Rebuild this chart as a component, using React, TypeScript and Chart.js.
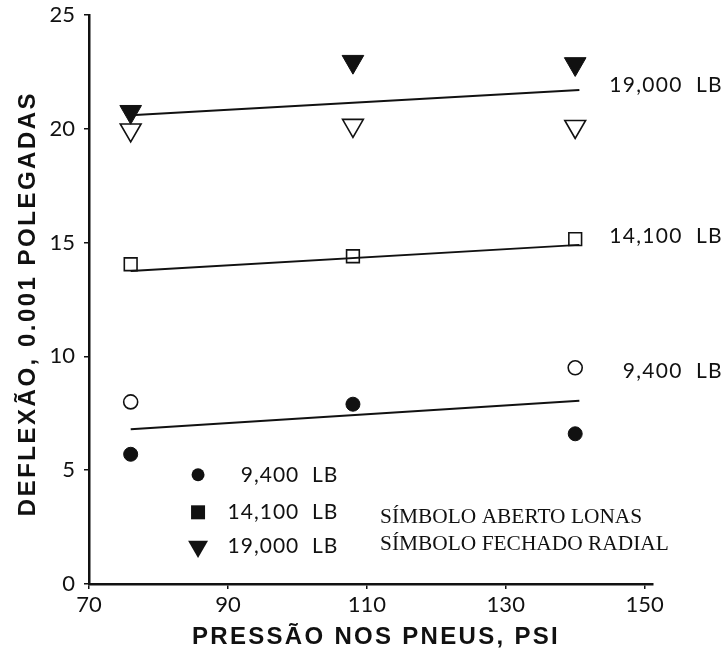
import React, { useEffect, useRef } from "react";
import { Chart, registerables } from "chart.js";

Chart.register(...registerables);

// ---- data ----
const pressure = [76, 108, 140];
const radial19000 = [20.75, 22.95, 22.85];
const lonas19000 = [19.95, 20.15, 20.1];
const lonas14100 = [14.05, 14.4, 15.15];
const radial9400 = [5.7, 7.9, 6.6];
const lonas9400 = [8.0, null, 9.5];
const fitPressure = [76, 140.6];
const fit19000 = [20.6, 21.7];
const fit14100 = [13.75, 14.9];
const fit9400 = [6.8, 8.05];
const xTickValues = [70, 90, 110, 130, 150];
const yTickValues = [0, 5, 10, 15, 20, 25];
const curveLabels = ["19,000  LB", "14,100  LB", "9,400  LB"];
const legendLabels = ["9,400  LB", "14,100  LB", "19,000  LB"];
const noteLines = ["SÍMBOLO ABERTO LONAS", "SÍMBOLO FECHADO RADIAL"];
const xTitle = "PRESSÃO NOS PNEUS, PSI";
const yTitle = "DEFLEXÃO, 0.001 POLEGADAS";

// annotation anchors (in data units)
const curveLabelY = [21.9, 15.27, 9.33];
const legendY = [4.8, 3.15, 1.65];
const legendMarkerX = 85.7;
const legendTextRightX = 105.9;
const noteX = 111.9;
const noteBaselineY = [2.68, 1.5];

const toPts = (xs: number[], ys: (number | null)[]) =>
  xs
    .map((x, i) => ({ x, y: ys[i] }))
    .filter((p) => p.y !== null) as { x: number; y: number }[];

const LABEL_FONT = "Lato, 'Open Sans', sans-serif";

const annotationPlugin = {
  id: "annotations",
  afterDraw(chart: any) {
    const ctx = chart.ctx as CanvasRenderingContext2D;
    const xs = chart.scales.x;
    const ys = chart.scales.y;
    const area = chart.chartArea;
    ctx.save();
    ctx.fillStyle = "#111";
    ctx.strokeStyle = "#111";

    // right-side curve labels
    ctx.font = `21px ${LABEL_FONT}`;
    (ctx as any).letterSpacing = "1.3px";
    ctx.textAlign = "right";
    ctx.textBaseline = "middle";
    curveLabels.forEach((t, i) => {
      ctx.fillText(t, chart.width, ys.getPixelForValue(curveLabelY[i]));
    });

    // legend
    (ctx as any).letterSpacing = "1px";
    const mx = xs.getPixelForValue(legendMarkerX);
    legendLabels.forEach((t, i) => {
      const py = ys.getPixelForValue(legendY[i]);
      ctx.beginPath();
      if (i === 0) {
        ctx.arc(mx, py, 6.5, 0, Math.PI * 2);
      } else if (i === 1) {
        ctx.rect(mx - 7, py - 7, 14, 14);
      } else {
        const r = 11.5;
        ctx.moveTo(mx - r * 0.866, py - r * 0.5);
        ctx.lineTo(mx + r * 0.866, py - r * 0.5);
        ctx.lineTo(mx, py + r);
        ctx.closePath();
      }
      ctx.fill();
      ctx.fillText(t, xs.getPixelForValue(legendTextRightX), py);
    });

    // serif notes
    (ctx as any).letterSpacing = "0px";
    ctx.font = "21.4px 'Liberation Serif', 'Times New Roman', serif";
    ctx.textAlign = "left";
    ctx.textBaseline = "alphabetic";
    noteLines.forEach((t, i) => {
      ctx.fillText(t, xs.getPixelForValue(noteX), ys.getPixelForValue(noteBaselineY[i]));
    });

    // axis titles
    ctx.font = "bold 24px 'Liberation Sans', Arial, sans-serif";
    (ctx as any).letterSpacing = "2.3px";
    ctx.textAlign = "center";
    ctx.textBaseline = "alphabetic";
    ctx.fillText(xTitle, (area.left + area.right) / 2 + 5, chart.height - 5);

    (ctx as any).letterSpacing = "2.5px";
    ctx.translate(28, (area.top + area.bottom) / 2 + 4);
    ctx.rotate(-Math.PI / 2);
    ctx.textBaseline = "middle";
    ctx.fillText(yTitle, 0, 0);
    ctx.restore();
  },
};

export default function App() {
  const ref = useRef<HTMLCanvasElement | null>(null);

  useEffect(() => {
    document.body.style.margin = "0";
    const canvas = ref.current!;
    const open = {
      backgroundColor: "rgba(255,255,255,0)",
      borderColor: "#111",
      pointBorderWidth: 1.6,
      showLine: false,
    };
    const closed = {
      backgroundColor: "#111",
      borderColor: "#111",
      pointBorderWidth: 1,
      showLine: false,
    };
    const fitLine = {
      showLine: true,
      borderColor: "#111",
      borderWidth: 2,
      pointRadius: 0,
      pointHoverRadius: 0,
      backgroundColor: "#111",
    };
    const chart = new Chart(canvas, {
      type: "scatter",
      data: {
        datasets: [
          { ...closed, label: "19,000 LB radial", data: toPts(pressure, radial19000), pointStyle: "triangle", pointRotation: 180, pointRadius: 12.5 },
          { ...open, label: "19,000 LB lonas", data: toPts(pressure, lonas19000), pointStyle: "triangle", pointRotation: 180, pointRadius: 12 },
          { ...open, label: "14,100 LB lonas", data: toPts(pressure, lonas14100), pointStyle: "rect", pointRadius: 9 },
          { ...closed, label: "9,400 LB radial", data: toPts(pressure, radial9400), pointStyle: "circle", pointRadius: 7 },
          { ...open, label: "9,400 LB lonas", data: toPts(pressure, lonas9400), pointStyle: "circle", pointRadius: 7 },
          { ...fitLine, label: "fit 19,000", data: toPts(fitPressure, fit19000) },
          { ...fitLine, label: "fit 14,100", data: toPts(fitPressure, fit14100) },
          { ...fitLine, label: "fit 9,400", data: toPts(fitPressure, fit9400) },
        ] as any,
      },
      options: {
        animation: false,
        responsive: false,
        events: [],
        layout: { padding: { left: 0, top: 15, right: 70, bottom: 0 } },
        plugins: { legend: { display: false }, tooltip: { enabled: false } },
        elements: { line: { tension: 0 } },
        scales: {
          x: {
            type: "linear",
            min: 70,
            max: 151.2,
            afterBuildTicks: (s: any) => {
              s.ticks = xTickValues.map((v) => ({ value: v }));
            },
            afterFit: (s: any) => {
              s.height = 65;
              s.paddingLeft = 0;
              s.paddingRight = 0;
            },
            border: { display: true, color: "#111", width: 2.5 },
            grid: { display: true, drawOnChartArea: false, drawTicks: true, tickLength: 5, color: "#111", lineWidth: 1.5 },
            ticks: {
              color: "#111",
              font: { family: LABEL_FONT, size: 22 },
              padding: 3,
              maxRotation: 0,
              autoSkip: false,
            },
          },
          y: {
            type: "linear",
            min: 0,
            max: 25,
            afterBuildTicks: (s: any) => {
              s.ticks = yTickValues.map((v) => ({ value: v }));
            },
            afterFit: (s: any) => {
              s.width = 89;
              s.paddingTop = 0;
              s.paddingBottom = 0;
            },
            border: { display: true, color: "#111", width: 2.5 },
            grid: { display: true, drawOnChartArea: false, drawTicks: true, tickLength: 5, color: "#111", lineWidth: 1.5 },
            ticks: {
              color: "#111",
              font: { family: LABEL_FONT, size: 22 },
              padding: 9,
              autoSkip: false,
            },
          },
        },
      },
      plugins: [annotationPlugin],
    } as any);
    return () => chart.destroy();
  }, []);

  return (
    <div style={{ width: 723, height: 649, background: "#fff" }}>
      <canvas ref={ref} width={723} height={649} style={{ display: "block" }} />
    </div>
  );
}
